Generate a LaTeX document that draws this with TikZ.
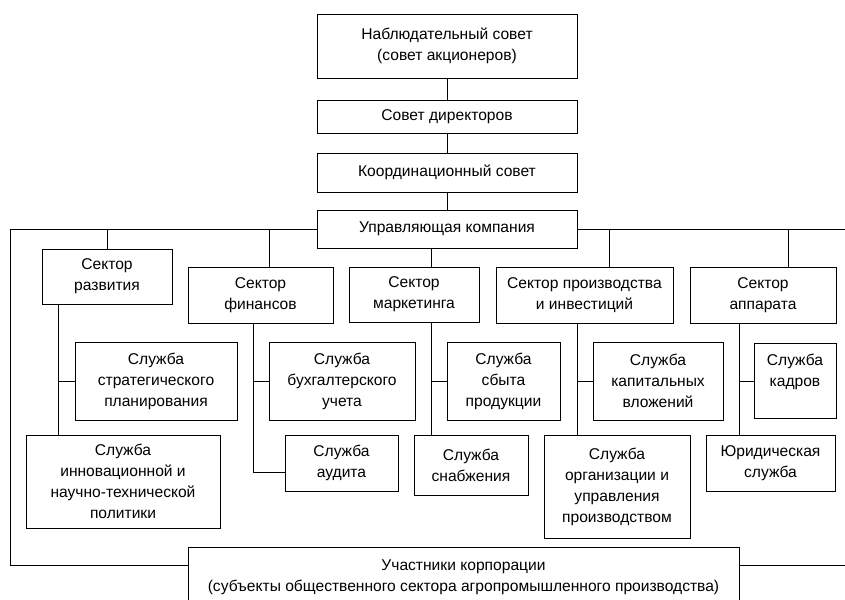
\documentclass[tikz,border=0pt]{standalone}
\usepackage{fontspec}
\setmainfont{Liberation Sans}
\begin{document}
\begin{tikzpicture}[x=1pt,y=-1pt,
  box/.style={draw, line width=0.9pt, align=center, inner sep=0pt,
    font=\fontsize{15.6}{21}\selectfont},
  conn/.style={line width=0.9pt}]
\useasboundingbox (0,0) rectangle (845,599);
\clip (0,0) rectangle (845,599);
% top chain
\node[box, minimum width=260pt, minimum height=64pt] (nab) at (447,46) {Наблюдательный совет\\(совет акционеров)};
\node[box, minimum width=260pt, minimum height=33pt] (sd) at (447,116.5) {Совет директоров};
\node[box, minimum width=260pt, minimum height=39pt] (kc) at (447,172.5) {Координационный совет};
\node[box, minimum width=260pt, minimum height=38pt] (uk) at (447,229) {Управляющая компания};
% sectors
\node[box, minimum width=130pt, minimum height=55pt] (sr) at (107,276.5) {Сектор\\развития};
\node[box, minimum width=145pt, minimum height=56pt] (sf) at (260.5,295) {Сектор\\финансов};
\node[box, minimum width=130pt, minimum height=55pt] (sm) at (414,294.5) {Сектор\\маркетинга};
\node[box, minimum width=177pt, minimum height=56pt] (sp) at (584.5,295) {Сектор производства\\и инвестиций};
\node[box, minimum width=146pt, minimum height=56pt] (sa) at (763,295) {Сектор\\аппарата};
% services
\node[box, minimum width=162pt, minimum height=78pt] (strat) at (156,381) {Служба\\стратегического\\планирования};
\node[box, minimum width=194pt, minimum height=93pt] (inn) at (123,481.5) {Служба\\инновационной и\\научно-технической\\политики};
\node[box, minimum width=146pt, minimum height=78pt] (buh) at (342,381) {Служба\\бухгалтерского\\учета};
\node[box, minimum width=113pt, minimum height=56pt] (aud) at (341.5,463) {Служба\\аудита};
\node[box, minimum width=113pt, minimum height=78pt] (sbyt) at (503.5,381) {Служба\\сбыта\\продукции};
\node[box, minimum width=114pt, minimum height=60pt] (sn) at (471,465) {Служба\\снабжения};
\node[box, minimum width=130pt, minimum height=78pt] (kap) at (658,381) {Служба\\капитальных\\вложений};
\node[box, minimum width=146pt, minimum height=103pt] (org) at (617,486.5) {Служба\\организации и\\управления\\производством};
\node[box, minimum width=82pt, minimum height=75pt] (kadr) at (795,381) {Служба\\кадров\\\mbox{}};
\node[box, minimum width=129pt, minimum height=56pt] (yur) at (770.5,463) {Юридическая\\служба};
% bottom
\node[box, minimum width=551pt, minimum height=60pt] (uch) at (463.5,577) {Участники корпорации\\(субъекты общественного сектора агропромышленного производства)};
% coordinates
\coordinate (L1) at (10,229);
\coordinate (L2) at (10,565);
\coordinate (R1) at (845,229);
\coordinate (R2) at (845,565);
\coordinate (s2) at (269,229);
\coordinate (s4) at (609,229);
\coordinate (s5) at (788,229);
\coordinate (c1) at (58,0);
\coordinate (c3) at (431,0);
\coordinate (c4) at (577,0);
\coordinate (c5) at (739,0);
\coordinate (a2) at (253,472);
% chain connectors
\draw[conn] (nab) -- (sd);
\draw[conn] (sd) -- (kc);
\draw[conn] (kc) -- (uk);
% frame lines
\draw[conn] (uk.west) -- (L1) -- (L2) -- (uch.west |- L2);
\draw[conn] (uk.east) -- (R1);
\draw[conn] (uch.east |- R2) -- (R2);
% sector stubs
\draw[conn] (sr.north) -- (sr.north |- L1);
\draw[conn] (s2) -- (s2 |- sf.north);
\draw[conn] (uk.south -| c3) -- (sm.north -| c3);
\draw[conn] (s4) -- (s4 |- sp.north);
\draw[conn] (s5) -- (s5 |- sa.north);
% columns
\draw[conn] (sr.south -| c1) -- (inn.north -| c1);
\draw[conn] (c1 |- strat.west) -- (strat.west);
\draw[conn] (sf.south -| a2) -- (a2) -- (a2 -| aud.west);
\draw[conn] (a2 |- buh.west) -- (buh.west);
\draw[conn] (sm.south -| c3) -- (sn.north -| c3);
\draw[conn] (c3 |- sbyt.west) -- (sbyt.west);
\draw[conn] (sp.south -| c4) -- (org.north -| c4);
\draw[conn] (c4 |- kap.west) -- (kap.west);
\draw[conn] (sa.south -| c5) -- (yur.north -| c5);
\draw[conn] (c5 |- kadr.west) -- (kadr.west);
\end{tikzpicture}
\end{document}
